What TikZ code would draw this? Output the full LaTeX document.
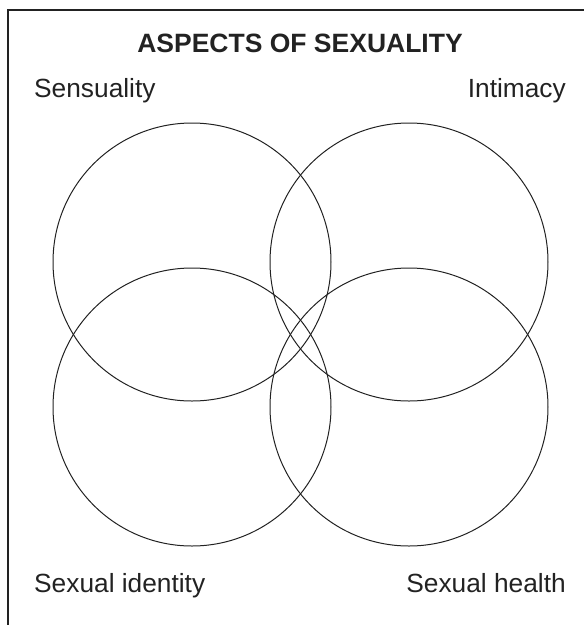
\documentclass[tikz,border=0pt]{standalone}
\usepackage{fontspec}
\setmainfont{Liberation Sans}
\definecolor{ink}{HTML}{222222}
\begin{document}
\begin{tikzpicture}[x=1pt,y=-1pt,
  ring/.style={draw=ink,line width=1pt,circle,minimum size=278pt,inner sep=0pt},
  lbl/.style={font=\fontsize{26.3}{30}\selectfont,text=ink,inner sep=0pt},
  ttl/.style={font=\fontsize{26.5}{30}\selectfont\bfseries,text=ink,inner sep=0pt}]
\useasboundingbox (0,0) rectangle (584,625);
\draw[ink,line width=1.3pt] (8,625) -- (8,10) -- (584,10);
\node[ring] (c1) at (192,262) {};
\node[ring] (c2) at (409,262) {};
\node[ring] (c3) at (192,407) {};
\node[ring] (c4) at (409,407) {};
\node[ttl,anchor=base] (title) at (300,52.5) {ASPECTS OF SEXUALITY};
\node[lbl,anchor=base west] (sen) at (34,97) {Sensuality};
\node[lbl,anchor=base east] (int) at (566,97) {Intimacy};
\node[lbl,anchor=base west] (sid) at (34,592) {Sexual identity};
\node[lbl,anchor=base east] (sh) at (566,592) {Sexual health};
\end{tikzpicture}
\end{document}
